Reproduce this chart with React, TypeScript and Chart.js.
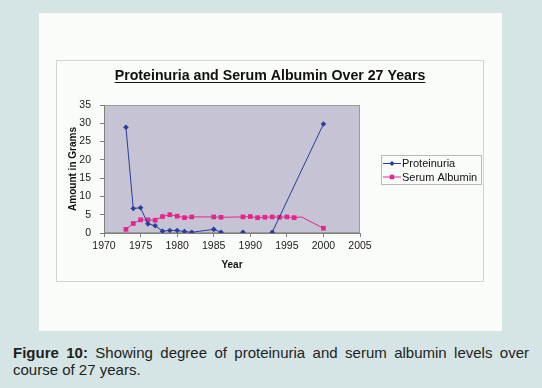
import React, { useEffect, useRef } from "react";
import { Chart, registerables } from "chart.js";

Chart.register(...registerables);

const FONT = "'Liberation Sans', Arial, Helvetica, sans-serif";

const chartTitle = "Proteinuria and Serum Albumin Over 27 Years";
const yAxisTitle = "Amount in Grams";
const xAxisTitle = "Year";
const seriesNames = ["Proteinuria", "Serum Albumin"];

const proteinuriaYears = [1973, 1974, 1975, 1976, 1977, 1978, 1979, 1980, 1981, 1982, 1985, 1986, 1987, 1989, 1990, 1993, 2000];
const proteinuria = [28.9, 6.7, 6.9, 2.5, 2.0, 0.5, 0.7, 0.7, 0.4, 0.2, 1.0, 0.2, null, 0.2, null, 0.2, 29.8];

const albuminYears = [1973, 1974, 1975, 1976, 1977, 1978, 1979, 1980, 1981, 1982, 1985, 1986, 1989, 1990, 1991, 1992, 1993, 1994, 1995, 1996, 1997, 2000];
const serumAlbumin = [1.0, 2.6, 3.6, 3.6, 3.5, 4.5, 5.0, 4.6, 4.2, 4.4, 4.4, 4.3, 4.4, 4.5, 4.2, 4.3, 4.4, 4.3, 4.4, 4.2, 4.4, 1.3];
const albuminMarkerless = [1997];

const xTicks = { min: 1970, max: 2005, step: 5 };
const yTicks = { min: 0, max: 35, step: 5 };

const BLUE = "#2b3c9c";
const MAGENTA = "#e2268e";

const panelPlugin = {
  id: "panel",
  beforeDraw(chart: any) {
    const { ctx, chartArea: a } = chart;
    ctx.save();
    ctx.fillStyle = "#fafcfa";
    ctx.fillRect(0, 0, chart.width, chart.height);
    ctx.strokeStyle = "#d4d4d4";
    ctx.lineWidth = 1;
    ctx.strokeRect(17.5, 47.5, 427, 221);
    ctx.fillStyle = "#c5c3d4";
    ctx.fillRect(a.left, a.top, a.right - a.left, a.bottom - a.top);
    ctx.strokeStyle = "#9a9a9a";
    ctx.strokeRect(a.left + 0.5, a.top + 0.5, a.right - a.left - 1, a.bottom - a.top - 1);
    ctx.restore();
  },
  afterDraw(chart: any) {
    const { ctx } = chart;
    ctx.save();
    // title
    ctx.font = `bold 14.2px ${FONT}`;
    ctx.fillStyle = "#111";
    ctx.textAlign = "center";
    ctx.textBaseline = "alphabetic";
    const tx = 231;
    const ty = 67;
    ctx.fillText(chartTitle, tx, ty);
    const w = ctx.measureText(chartTitle).width;
    ctx.strokeStyle = "#111";
    ctx.lineWidth = 1;
    ctx.beginPath();
    ctx.moveTo(tx - w / 2, ty + 2.5);
    ctx.lineTo(tx + w / 2, ty + 2.5);
    ctx.stroke();
    // legend
    const bx = 342.5, by = 142.5, bw = 100, bh = 29;
    ctx.strokeStyle = "#b8b8b8";
    ctx.strokeRect(bx, by, bw, bh);
    ctx.font = `11px ${FONT}`;
    ctx.textAlign = "left";
    ctx.textBaseline = "middle";
    chart.data.datasets.forEach((ds: any, i: number) => {
      const y = 150.5 + i * 13.5;
      ctx.strokeStyle = ds.borderColor;
      ctx.lineWidth = 1;
      ctx.beginPath();
      ctx.moveTo(344, y);
      ctx.lineTo(362, y);
      ctx.stroke();
      ctx.fillStyle = ds.backgroundColor;
      if (i === 0) {
        ctx.beginPath();
        ctx.moveTo(353, y - 2.6);
        ctx.lineTo(355.6, y);
        ctx.lineTo(353, y + 2.6);
        ctx.lineTo(350.4, y);
        ctx.closePath();
        ctx.fill();
      } else {
        ctx.fillRect(350.8, y - 2.2, 4.4, 4.4);
      }
      ctx.fillStyle = "#111";
      ctx.fillText(ds.label, 363, y + 0.5);
    });
    ctx.restore();
  },
};

export default function App() {
  const ref = useRef<HTMLCanvasElement>(null);
  useEffect(() => {
    if (!ref.current) return;
    const chart = new Chart(ref.current, {
      type: "line",
      data: {
        datasets: [
          {
            label: seriesNames[0],
            data: proteinuriaYears.map((x, i) => ({ x, y: proteinuria[i] })),
            borderColor: BLUE,
            backgroundColor: BLUE,
            borderWidth: 1,
            pointStyle: "rectRot",
            pointRadius: 2.8,
            pointBorderWidth: 0,
            spanGaps: false,
          },
          {
            label: seriesNames[1],
            data: albuminYears.map((x, i) => ({ x, y: serumAlbumin[i] })),
            borderColor: MAGENTA,
            backgroundColor: MAGENTA,
            borderWidth: 1,
            pointStyle: "rect",
            pointRadius: (c: any) => (albuminMarkerless.includes(albuminYears[c.dataIndex]) ? 0 : 3.3),
            pointBorderWidth: 0,
            spanGaps: false,
          },
        ],
      },
      options: {
        responsive: false,
        animation: false,
        events: [],
        layout: { padding: { left: 28, top: 92, right: 142, bottom: 60 } },
        plugins: { legend: { display: false }, title: { display: false }, tooltip: { enabled: false } },
        scales: {
          x: {
            type: "linear",
            min: xTicks.min,
            max: xTicks.max,
            afterFit: (s: any) => { s.height = 38; },
            ticks: { stepSize: xTicks.step, padding: 3, color: "#1a1a1a", font: { family: FONT, size: 10.5 }, maxRotation: 0, callback: (v: any) => String(v) },
            grid: { display: true, drawOnChartArea: false, drawTicks: true, tickLength: 4, color: "#808080" },
            border: { display: true, color: "#808080" },
            title: { display: true, text: xAxisTitle, color: "#111", font: { family: FONT, size: 10, weight: "bold" }, padding: 0 },
          },
          y: {
            type: "linear",
            min: yTicks.min,
            max: yTicks.max,
            afterFit: (s: any) => { s.width = 37; },
            ticks: { stepSize: yTicks.step, padding: 9, color: "#1a1a1a", font: { family: FONT, size: 10.5 } },
            grid: { display: true, drawOnChartArea: false, drawTicks: true, tickLength: 4, color: "#808080" },
            border: { display: true, color: "#808080" },
            title: { display: true, text: yAxisTitle, color: "#111", font: { family: FONT, size: 10, weight: "bold" }, padding: 0 },
          },
        },
      },
      plugins: [panelPlugin],
    } as any);
    return () => chart.destroy();
  }, []);

  return (
    <div style={{ position: "fixed", left: 0, top: 0, width: 542, height: 388, background: "#d5e4e4", overflow: "hidden" }}>
      <canvas ref={ref} width={463} height={318} style={{ position: "absolute", left: 39, top: 13, width: 463, height: 318 }} />
      <div
        style={{
          position: "absolute",
          left: 13,
          top: 344,
          width: 516,
          fontFamily: FONT,
          fontSize: 15,
          lineHeight: "17px",
          textAlign: "justify",
          color: "#1e1e1e",
        }}
      >
        <b>Figure 10:</b> Showing degree of proteinuria and serum albumin levels over course of 27 years.
      </div>
    </div>
  );
}
